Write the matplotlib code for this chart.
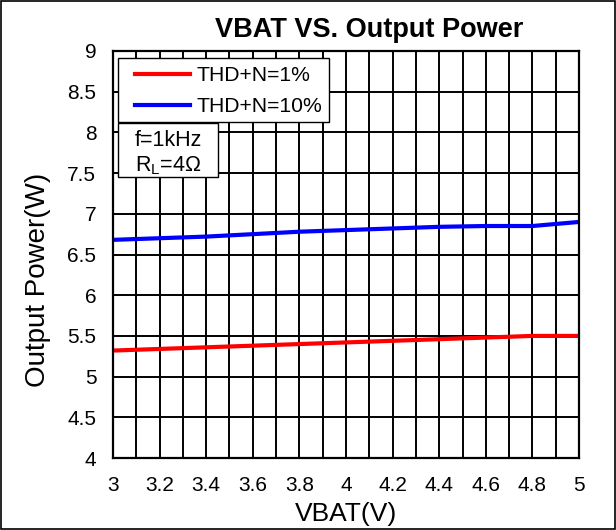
import matplotlib
matplotlib.use("Agg")
import matplotlib.pyplot as plt
from matplotlib.patches import Rectangle
from matplotlib.ticker import MultipleLocator

plt.rcParams['font.family'] = ['Liberation Sans', 'DejaVu Sans']

vbat = [3.0, 3.2, 3.4, 3.6, 3.8, 4.0, 4.2, 4.4, 4.6, 4.8, 5.0]
thd1 = [5.32, 5.34, 5.36, 5.38, 5.40, 5.42, 5.44, 5.46, 5.48, 5.50, 5.50]
thd10 = [6.68, 6.70, 6.72, 6.75, 6.78, 6.80, 6.82, 6.84, 6.85, 6.85, 6.90]
xticks = [3, 3.2, 3.4, 3.6, 3.8, 4, 4.2, 4.4, 4.6, 4.8, 5]
xticklabels = ['3', '3.2', '3.4', '3.6', '3.8', '4', '4.2', '4.4', '4.6', '4.8', '5']
yticks = [4, 4.5, 5, 5.5, 6, 6.5, 7, 7.5, 8, 8.5, 9]
yticklabels = ['4', '4.5', '5', '5.5', '6', '6.5', '7', '7.5', '8', '8.5', '9']

fig = plt.figure(figsize=(6.16, 5.30), dpi=100)
fig.patches.append(Rectangle((0.001, 0.001), 0.997, 0.997, transform=fig.transFigure,
                             fill=False, edgecolor='black', linewidth=1.2))
ax = fig.add_axes([0.1834, 0.1358, 0.7566, 0.768])

ax.set_xlim(3, 5)
ax.set_ylim(4, 9)
ax.set_xticks(xticks)
ax.set_xticklabels(xticklabels, fontsize=15)
ax.set_yticks(yticks)
ax.set_yticklabels(yticklabels, fontsize=15)
ax.xaxis.set_minor_locator(MultipleLocator(0.1))
ax.grid(True, which='major', color='black', linewidth=1.4)
ax.grid(True, which='minor', axis='x', color='black', linewidth=1.4)
ax.tick_params(which='both', length=0)
ax.tick_params(axis='x', pad=13)
ax.tick_params(axis='y', pad=12)
for s in ax.spines.values():
    s.set_linewidth(1.6)

l1, = ax.plot(vbat, thd1, color='#ff0000', linewidth=3, label='THD+N=1%')
l2, = ax.plot(vbat, thd10, color='#0000ff', linewidth=3, label='THD+N=10%')

ax.set_title('VBAT VS. Output Power', fontsize=19.5, fontweight='bold', pad=10, x=0.549)
ax.set_xlabel('VBAT(V)', fontsize=19, labelpad=5)
ax.set_ylabel('Output Power(W)', fontsize=20)
ax.yaxis.set_label_coords(-0.134, 0.437)

# legend frame
ax.add_patch(Rectangle((0.0107, 0.8256), 0.4528, 0.1572, transform=ax.transAxes,
                       facecolor='white', edgecolor='black', linewidth=1.0, zorder=4.5))
leg = ax.legend(loc='upper left', bbox_to_anchor=(0.0472, 0.963), borderaxespad=0,
                fontsize=15.2, frameon=False, handlelength=2.6, borderpad=0,
                labelspacing=0.58, handletextpad=0.3)

ax.add_patch(Rectangle((0.0107, 0.690), 0.2146, 0.1327, transform=ax.transAxes,
                       facecolor='white', edgecolor='black', linewidth=1.0, zorder=5))
ax.text(0.047, 0.747, 'f=1kHz\nR$_\\mathregular{L}$=4Ω', transform=ax.transAxes,
        fontsize=15.5, va='center', ha='left', linespacing=1.2, zorder=6)

fig.savefig('out.png', dpi=100)
